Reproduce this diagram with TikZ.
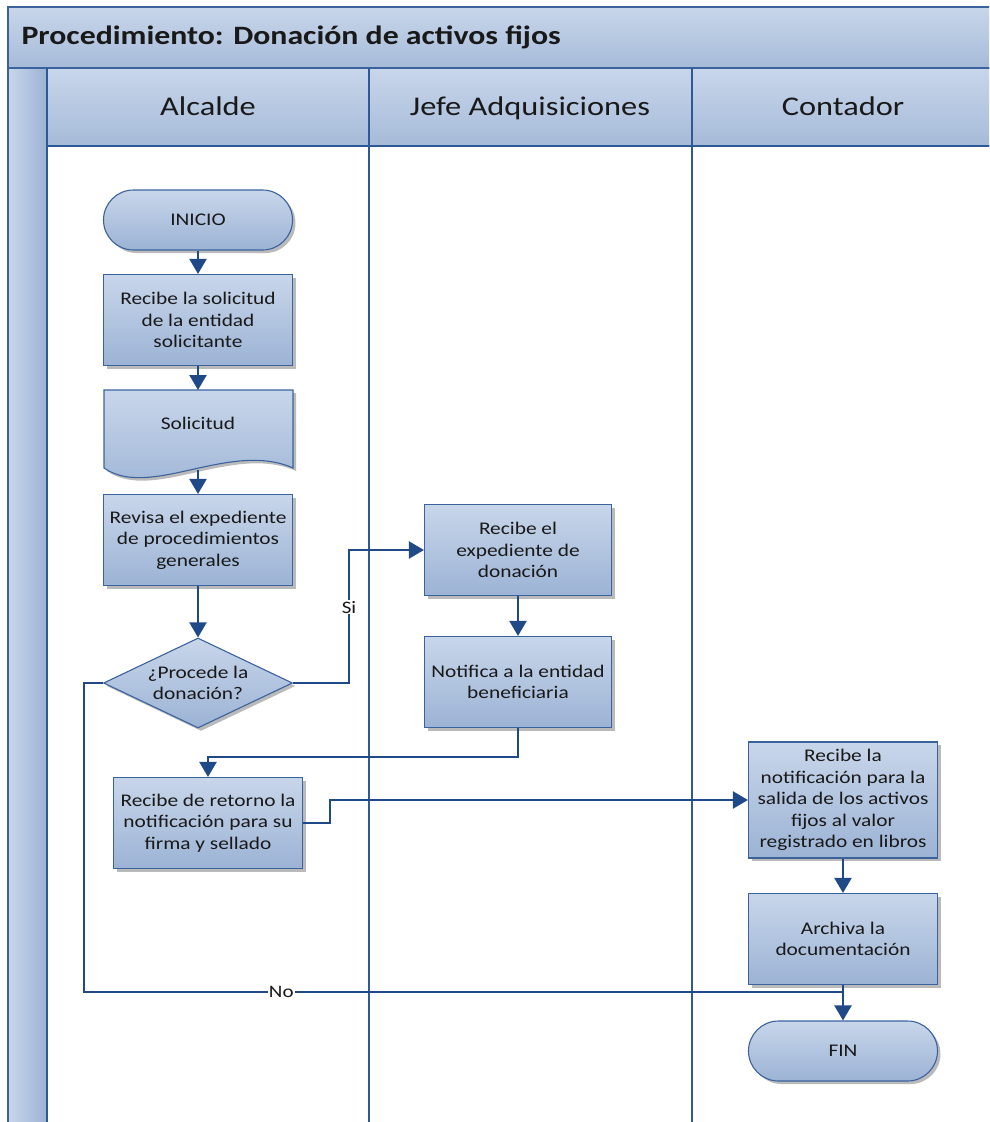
\documentclass[tikz,border=0pt]{standalone}
\usepackage{fontspec}
\setmainfont{Carlito}[FakeStretch=1.2]
\usetikzlibrary{shapes.geometric,shadows,arrows.meta}

\definecolor{fillTop}{HTML}{C8D6EA}
\definecolor{fillBot}{HTML}{9CB3D5}
\definecolor{edgeBlue}{HTML}{3A639E}
\definecolor{flowBlue}{HTML}{1F4A87}
\definecolor{laneBlue}{HTML}{2D5A97}

\tikzset{
  shade box/.style={draw=edgeBlue, line width=1.1pt, top color=fillTop, bottom color=fillBot,
    drop shadow={shadow xshift=3pt, shadow yshift=-3pt, fill=black!45, opacity=0.6}},
  txt/.style={align=center, font=\fontsize{17.8}{21.5}\selectfont, text=black!90},
  procbox/.style={shade box, txt, minimum width=189pt, minimum height=91pt, inner sep=2pt},
  termbox/.style={shade box, txt, rounded corners=30pt, minimum width=189pt, minimum height=60pt, inner sep=2pt},
  decbox/.style={shade box, txt, diamond, aspect=2.1, minimum width=189pt, minimum height=90pt, inner sep=-6pt},
  flow/.style={draw=flowBlue, line width=2.2pt, -{Triangle[width=17pt,length=15pt]}},
  flowline/.style={draw=flowBlue, line width=2.2pt},
  lbl/.style={fill=white, inner sep=1pt, font=\fontsize{17.5}{20}\selectfont, text=black!90},
  band/.style={draw=edgeBlue, line width=1.4pt, top color=fillTop, bottom color=fillBot!90},
  lanehead/.style={font=\fontsize{27}{32}\selectfont, text=black!90, anchor=base},
  laneline/.style={draw=laneBlue, line width=1.6pt}
}

\begin{document}
\begin{tikzpicture}[x=1pt,y=-1pt]
\useasboundingbox (0,0) rectangle (989,1122);
\clip (0,0) rectangle (989,1122);

% pool frame: title band, lane headers, left strip
\path[band] (8,7) rectangle (1000,68);
\path[band] (47,68) rectangle (1000,146);
\path[draw=edgeBlue, line width=1.4pt, left color=fillTop, right color=fillBot] (8,68) rectangle (47,1130);
\node[anchor=west, font=\fontsize{26.5}{30}\selectfont\bfseries, text=black!90] (title) at (18,37) {Procedimiento: Donación de activos fijos};

% lane separators
\draw[laneline] (47,68) -- (47,1130);
\draw[laneline] (369,68) -- (369,1130);
\draw[laneline] (692,68) -- (692,1130);
\draw[laneline] (47,146) -- (1000,146);

\node[lanehead] (hA) at (208,115) {Alcalde};
\node[lanehead] (hJ) at (530,115) {Jefe Adquisiciones};
\node[lanehead] (hC) at (843,115) {Contador};

% Alcalde lane
\node[termbox] (ini) at (198,220) {INICIO};
\node[procbox] (rs) at (198,320) {Recibe la solicitud\\de la entidad\\solicitante};

% document shape with wavy bottom
\fill[black!45, opacity=0.6, shift={(3pt,-3pt)}] (104,390) -- (293,390) -- (293,468)
  .. controls (230,440) and (150,500) .. (104,468) -- cycle;
\path[draw=edgeBlue, line width=1.1pt, top color=fillTop, bottom color=fillBot] (104,390) -- (293,390) -- (293,468)
  .. controls (230,440) and (150,500) .. (104,468) -- cycle;
\node[txt, minimum width=189pt, minimum height=66pt] (sol) at (198,423) {Solicitud};
\coordinate (solTop) at (198,390);
\coordinate (solb) at (198,470);

\node[procbox] (rev) at (198,540) {Revisa el expediente\\de procedimientos\\generales};
\node[decbox] (dec) at (198,683) {¿Procede la\\donación?};
\node[procbox] (ret) at (208,823) {Recibe de retorno la\\notificación para su\\firma y sellado};

% Jefe Adquisiciones lane
\node[procbox, minimum width=187pt] (exp) at (518,550) {Recibe el\\expediente de\\donación};
\node[procbox, minimum width=187pt] (not) at (518,682) {Notifica a la entidad\\beneficiaria};

% Contador lane
\node[procbox, minimum height=116pt] (rn) at (843,800) {Recibe la\\notificación para la\\salida de los activos\\fijos al valor\\registrado en libros};
\node[procbox] (arc) at (843,939) {Archiva la\\documentación};
\node[termbox] (fin) at (843,1051) {FIN};
\coordinate (noEnd) at (843,992);

% connectors
\draw[flow] (ini) -- (rs);
\draw[flow] (rs) -- (solTop);
\draw[flow] (solb) -- (rev);
\draw[flow] (rev) -- (dec);
\draw[flow] (dec.east) -- ++(56,0) coordinate (sA) -- node[lbl, pos=0.57] (si) {Si} (sA |- exp.west) -- (exp.west);
\draw[flow] (exp) -- (not);
\draw[flow] (not.south) -- ++(0,29) -| (ret.north);
\draw[flow] (ret.east) -- ++(27,0) |- (rn.west);
\draw[flow] (rn) -- (arc);
\draw[flowline] (dec.west) -- ++(-19,0) |- node[lbl, pos=0.63] (no) {No} (noEnd);
\draw[flow] (arc) -- (fin);
\end{tikzpicture}
\end{document}
